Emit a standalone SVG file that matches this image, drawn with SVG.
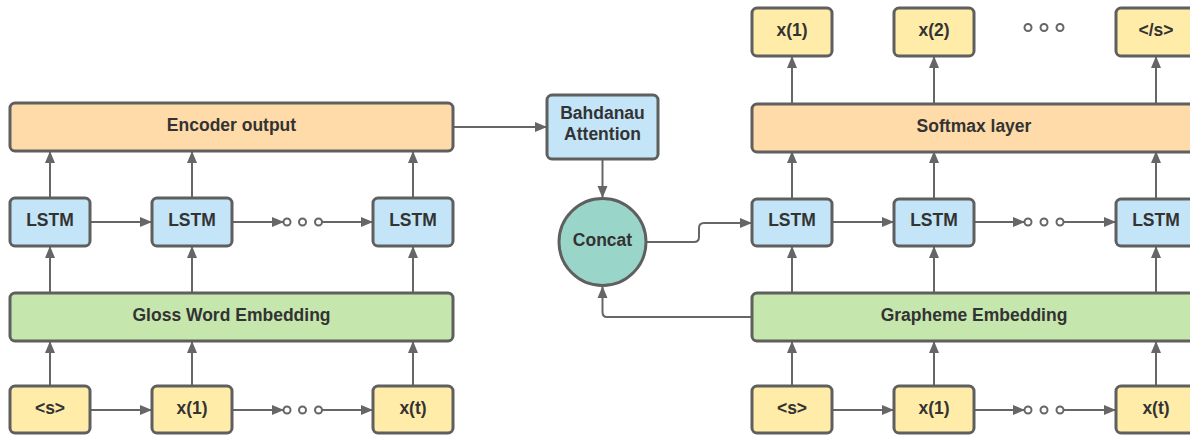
<svg xmlns="http://www.w3.org/2000/svg" width="1190" height="435" viewBox="0 0 1190 435">
<style>
.b{stroke:#5f5f5f;stroke-width:3}
.or{fill:#ffdba9}.bl{fill:#c3e5f7}.gr{fill:#c5e6ad}.ye{fill:#ffeca9}.te{fill:#9ad5ca}
text{font-family:"Liberation Sans",Arial,sans-serif;font-weight:bold;font-size:17.5px;fill:#333;text-anchor:middle;dominant-baseline:central}
.c{fill:none;stroke:#666;stroke-width:2}
.d{fill:#fff;stroke:#666;stroke-width:2}
</style>
<defs>
<marker id="a" markerUnits="userSpaceOnUse" markerWidth="12" markerHeight="12" refX="11" refY="6" orient="auto"><path d="M0,1 L12,6 L0,11 z" fill="#666"/></marker>
</defs>
<g id="connectors">
<path class="c" marker-end="url(#a)" d="M50,386V342"/>
<path class="c" marker-end="url(#a)" d="M192,386V342"/>
<path class="c" marker-end="url(#a)" d="M413,386V342"/>
<path class="c" marker-end="url(#a)" d="M50,293V247"/>
<path class="c" marker-end="url(#a)" d="M192,293V247"/>
<path class="c" marker-end="url(#a)" d="M413,293V247"/>
<path class="c" marker-end="url(#a)" d="M50,198V152"/>
<path class="c" marker-end="url(#a)" d="M192,198V152"/>
<path class="c" marker-end="url(#a)" d="M413,198V152"/>
<path class="c" marker-end="url(#a)" d="M90,222H151"/>
<path class="c" marker-end="url(#a)" d="M232,222H283"/>
<path class="c" marker-end="url(#a)" d="M322,222H372"/>
<path class="c" marker-end="url(#a)" d="M90,410H151"/>
<path class="c" marker-end="url(#a)" d="M232,410H283"/>
<path class="c" marker-end="url(#a)" d="M322,410H372"/>
<path class="c" marker-end="url(#a)" d="M454,127H546"/>
<path class="c" marker-end="url(#a)" d="M602.5,160V197"/>
<path class="c" marker-end="url(#a)" d="M646,242H694Q699,242 699,237V228Q699,223 704,223H751"/>
<path class="c" marker-end="url(#a)" d="M751,317H607Q602.5,317 602.5,312V287"/>
<path class="c" marker-end="url(#a)" d="M792,386V342"/>
<path class="c" marker-end="url(#a)" d="M934,386V342"/>
<path class="c" marker-end="url(#a)" d="M1156,386V342"/>
<path class="c" marker-end="url(#a)" d="M792,293V247"/>
<path class="c" marker-end="url(#a)" d="M934,293V247"/>
<path class="c" marker-end="url(#a)" d="M1156,293V247"/>
<path class="c" marker-end="url(#a)" d="M792,198V152"/>
<path class="c" marker-end="url(#a)" d="M934,198V152"/>
<path class="c" marker-end="url(#a)" d="M1156,198V152"/>
<path class="c" marker-end="url(#a)" d="M792,104V57"/>
<path class="c" marker-end="url(#a)" d="M934,104V57"/>
<path class="c" marker-end="url(#a)" d="M1156,104V57"/>
<path class="c" marker-end="url(#a)" d="M832,222H893"/>
<path class="c" marker-end="url(#a)" d="M974,222H1024"/>
<path class="c" marker-end="url(#a)" d="M1064,222H1115"/>
<path class="c" marker-end="url(#a)" d="M832,410H893"/>
<path class="c" marker-end="url(#a)" d="M974,410H1024"/>
<path class="c" marker-end="url(#a)" d="M1064,410H1115"/>
<circle class="d" cx="287" cy="222" r="3.5"/><circle class="d" cx="302.5" cy="222" r="3.5"/><circle class="d" cx="318.5" cy="222" r="3.5"/>
<circle class="d" cx="287" cy="410" r="3.5"/><circle class="d" cx="302.5" cy="410" r="3.5"/><circle class="d" cx="318.5" cy="410" r="3.5"/>
<circle class="d" cx="1028" cy="222" r="3.5"/><circle class="d" cx="1044" cy="222" r="3.5"/><circle class="d" cx="1060" cy="222" r="3.5"/>
<circle class="d" cx="1028" cy="410" r="3.5"/><circle class="d" cx="1044" cy="410" r="3.5"/><circle class="d" cx="1060" cy="410" r="3.5"/>
<circle class="d" cx="1028" cy="27.5" r="3.5"/><circle class="d" cx="1044" cy="27.5" r="3.5"/><circle class="d" cx="1060" cy="27.5" r="3.5"/>
</g>
<g id="encoder-output"><rect class="b or" x="10" y="103" width="443" height="48" rx="5"/><text x="231.5" y="125">Encoder output</text></g>
<g id="enc-lstm1"><rect class="b bl" x="10" y="198" width="80" height="48" rx="5"/><text x="50" y="220">LSTM</text></g>
<g id="enc-lstm2"><rect class="b bl" x="152" y="198" width="80" height="48" rx="5"/><text x="192" y="220">LSTM</text></g>
<g id="enc-lstm3"><rect class="b bl" x="373" y="198" width="80" height="48" rx="5"/><text x="413" y="220">LSTM</text></g>
<g id="gloss-embedding"><rect class="b gr" x="10" y="293" width="443" height="48" rx="5"/><text x="231.5" y="315">Gloss Word Embedding</text></g>
<g id="enc-in1"><rect class="b ye" x="10" y="386" width="80" height="47" rx="5"/><text x="50" y="408">&lt;s&gt;</text></g>
<g id="enc-in2"><rect class="b ye" x="152" y="386" width="80" height="47" rx="5"/><text x="192" y="408">x(1)</text></g>
<g id="enc-in3"><rect class="b ye" x="373" y="386" width="80" height="47" rx="5"/><text x="413" y="408">x(t)</text></g>
<g id="attention"><rect class="b bl" x="547" y="95" width="111" height="64" rx="5"/><text x="602.5" y="113">Bahdanau</text><text x="602.5" y="134">Attention</text></g>
<g id="concat"><circle class="b te" cx="602.5" cy="242" r="43.5"/><text x="602.5" y="240">Concat</text></g>
<g id="out1"><rect class="b ye" x="752" y="8" width="80" height="48" rx="5"/><text x="792" y="30">x(1)</text></g>
<g id="out2"><rect class="b ye" x="894" y="8" width="80" height="48" rx="5"/><text x="934" y="30">x(2)</text></g>
<g id="out3"><rect class="b ye" x="1116" y="8" width="80" height="48" rx="5"/><text x="1156" y="30">&lt;/s&gt;</text></g>
<g id="softmax"><rect class="b or" x="752" y="104" width="444" height="48" rx="5"/><text x="974" y="126">Softmax layer</text></g>
<g id="dec-lstm1"><rect class="b bl" x="752" y="199" width="80" height="47" rx="5"/><text x="792" y="220">LSTM</text></g>
<g id="dec-lstm2"><rect class="b bl" x="894" y="199" width="80" height="47" rx="5"/><text x="934" y="220">LSTM</text></g>
<g id="dec-lstm3"><rect class="b bl" x="1116" y="199" width="80" height="47" rx="5"/><text x="1156" y="220">LSTM</text></g>
<g id="grapheme-embedding"><rect class="b gr" x="752" y="293" width="444" height="48" rx="5"/><text x="974" y="315">Grapheme Embedding</text></g>
<g id="dec-in1"><rect class="b ye" x="752" y="386" width="80" height="47" rx="5"/><text x="792" y="408">&lt;s&gt;</text></g>
<g id="dec-in2"><rect class="b ye" x="894" y="386" width="80" height="47" rx="5"/><text x="934" y="408">x(1)</text></g>
<g id="dec-in3"><rect class="b ye" x="1116" y="386" width="80" height="47" rx="5"/><text x="1156" y="408">x(t)</text></g>
</svg>
